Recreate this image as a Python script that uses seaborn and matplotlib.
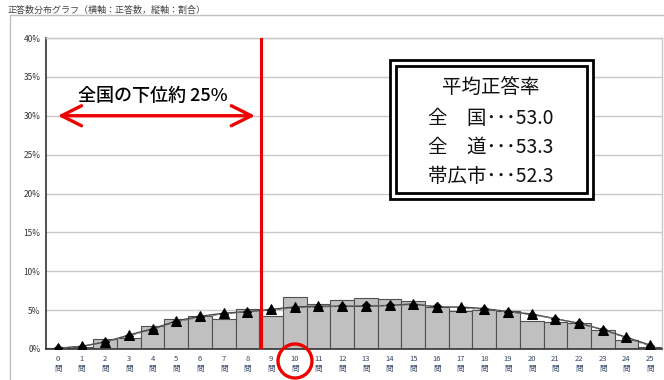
import matplotlib
matplotlib.use("Agg")
import matplotlib.pyplot as plt
import seaborn as sns
import pandas as pd
from matplotlib.patches import Rectangle, Ellipse

sns.set_theme(style="white")
plt.rcParams['font.family'] = ['Noto Sans CJK JP', 'DejaVu Sans']

# ---- data ----
questions = list(range(26))
city_pct = [0.1, 0.3, 1.3, 1.4, 2.9, 3.8, 4.3, 3.9, 5.2, 4.3, 6.65, 5.8, 6.3,
            6.5, 6.4, 6.2, 5.4, 4.9, 5.0, 4.9, 3.6, 3.5, 3.4, 2.5, 1.1, 0.3]
national_pct = [0.1, 0.35, 0.9, 1.8, 2.6, 3.6, 4.2, 4.6, 4.8, 5.1, 5.4, 5.5, 5.5,
                5.5, 5.6, 5.8, 5.4, 5.4, 5.2, 4.8, 4.5, 3.9, 3.3, 2.5, 1.5, 0.5]
hokkaido_pct = [0.1, 0.3, 0.9, 1.7, 2.5, 3.5, 4.1, 4.5, 4.8, 5.0, 5.3, 5.4, 5.5,
                5.6, 5.6, 5.7, 5.5, 5.3, 5.1, 4.8, 4.4, 3.9, 3.3, 2.5, 1.4, 0.4]
y_ticks = [0, 5, 10, 15, 20, 25, 30, 35, 40]
x_labels = [f"{q}\n問" for q in questions]
title = "正答数分布グラフ（横軸：正答数，縦軸：割合）"
lower_label = "全国の下位約 25%"
box_lines = ["平均正答率", "全　国･･･53.0", "全　道･･･53.3", "帯広市･･･52.3"]

df = pd.DataFrame({"q": questions, "city": city_pct,
                   "national": national_pct, "hokkaido": hokkaido_pct})

W, H = 664, 380
fig = plt.figure(figsize=(W / 100, H / 100), dpi=100)
fig.patch.set_facecolor("white")

def fx(px):
    return px / W

def fy(py):
    return 1 - py / H

ax = fig.add_axes([fx(46), fy(349), fx(662) - fx(46), fy(38) - fy(349)])

sns.barplot(data=df, x="q", y="city", ax=ax, width=1.0, color="#c0c0c0",
            edgecolor="#505050", linewidth=0.8, saturation=1, zorder=2)
sns.lineplot(data=df, x="q", y="national", ax=ax, color="#404040", lw=1.0,
             marker="^", markersize=7, markerfacecolor="black",
             markeredgecolor="black", zorder=4)
sns.lineplot(data=df, x="q", y="hokkaido", ax=ax, color="#707070", lw=0.8,
             linestyle="--", marker="D", markersize=4, markerfacecolor="black",
             markeredgecolor="black", zorder=5)

ax.set_xlim(-0.5, 25.5)
ax.set_ylim(0, 40)
ax.set_yticks(y_ticks)
ax.set_yticklabels([f"{v}%" for v in y_ticks], fontsize=6, color="#333333")
ax.set_xticks(questions)
ax.set_xticklabels(x_labels, fontsize=5.5, color="#334466", linespacing=1.4)
ax.tick_params(axis="both", length=0, pad=4)
ax.set_xlabel("")
ax.set_ylabel("")
ax.yaxis.grid(True, color="#c8c8c8", lw=1.0, zorder=0)
ax.set_axisbelow(True)
for s in ["top", "right"]:
    ax.spines[s].set_color("#c8c8c8")
    ax.spines[s].set_linewidth(1.0)
for s in ["left", "bottom"]:
    ax.spines[s].set_color("#333333")
    ax.spines[s].set_linewidth(1.2)

# red vertical line and arrow
ax.axvline(8.57, color="#ee0000", lw=2.2, zorder=6)
ax.annotate("", xy=(-0.12, 30), xytext=(8.44, 30),
            arrowprops=dict(arrowstyle="<->,head_length=1.2,head_width=0.6",
                            color="#ee0000", lw=2.4), zorder=7)
ax.text(4.0, 32.6, lower_label, ha="center", va="center", fontsize=13,
        fontweight="medium", color="black", zorder=7)

# outer frame and title
fig.patches.append(Rectangle((fx(10), fy(400)), fx(700), fy(15) - fy(400),
                             transform=fig.transFigure, fill=False,
                             edgecolor="#c0c0c0", lw=1.0))
fig.text(fx(8), fy(10), title, fontsize=6.5, color="#444444",
         ha="left", va="center")

# double-bordered text box
fig.patches.append(Rectangle((fx(390), fy(199)), fx(593) - fx(390), fy(60) - fy(199),
                             transform=fig.transFigure, fill=True, facecolor="white",
                             edgecolor="black", lw=2.0, zorder=8))
fig.patches.append(Rectangle((fx(396), fy(193)), fx(587) - fx(396), fy(66) - fy(193),
                             transform=fig.transFigure, fill=False,
                             edgecolor="black", lw=2.0, zorder=9))
ys = [88, 118, 147, 176]
for txt, yy in zip(box_lines, ys):
    fig.text(fx(491), fy(yy), txt, ha="center", va="center", fontsize=14,
             color="#111111", zorder=10)

# red circle around "10 問"
fig.patches.append(Ellipse((fx(295), fy(361)), fx(34), fy(0) - fy(34),
                           transform=fig.transFigure, fill=False,
                           edgecolor="#ee0000", lw=2.4, zorder=10))

fig.savefig("out.png", dpi=100)
